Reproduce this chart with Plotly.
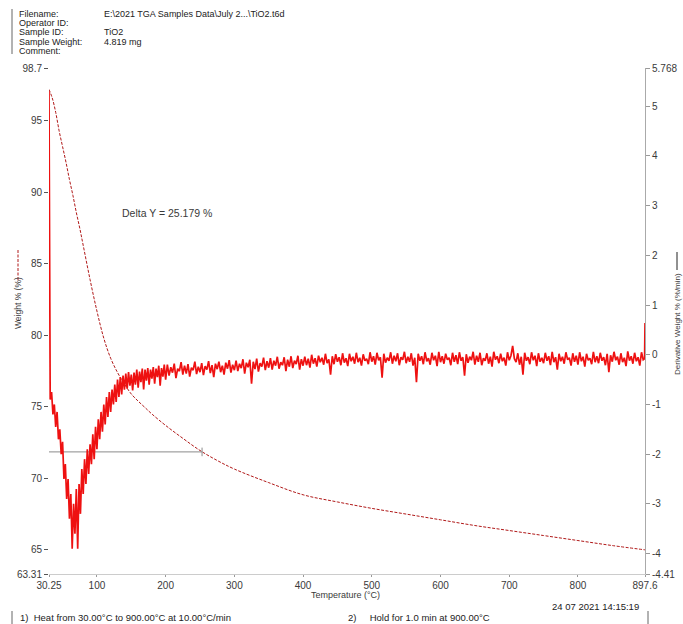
import plotly.graph_objects as go

# ---------------- data ----------------
weight_temp = [30.25, 35, 40, 45, 50, 55, 60, 65, 70, 75, 80, 90, 100, 110, 120, 130, 140, 150,
               160, 170, 180, 200, 225, 250, 275, 300, 350, 400, 450, 500, 550, 600, 650, 700,
               750, 800, 850, 897.6]
weight_pct = [97.2, 96.6, 95.6, 94.3, 93.2, 92.1, 90.9, 89.8, 88.6, 87.5, 86.3, 83.9, 81.7, 79.8,
              78.4, 77.4, 76.6, 75.9, 75.4, 74.95, 74.5, 73.7, 72.8, 71.95, 71.25, 70.65, 69.7,
              68.85, 68.35, 67.9, 67.5, 67.1, 66.7, 66.35, 66.0, 65.65, 65.3, 65.0]

deriv_temp_a = [30.25, 31] + list(range(32, 201, 2))
deriv_vals_a = [5.30, -0.62,
                -0.9, -0.75, -1.2, -1.0, -1.45, -1.15, -1.7, -1.5, -2.0, -1.75,
                -2.5, -2.2, -2.9, -2.5, -3.3, -2.8, -3.9, -3.0, -3.6, -2.7,
                -3.9, -2.6, -3.2, -2.3, -2.8, -2.1, -2.6, -1.9, -2.4, -1.8,
                -2.2, -1.6, -2.1, -1.45, -1.9, -1.3, -1.7, -1.15, -1.55, -1.0,
                -1.4, -0.85, -1.25, -0.75, -1.15, -0.7, -1.0, -0.6, -0.95, -0.5,
                -0.85, -0.45, -0.8, -0.42, -0.7, -0.38, -0.68, -0.35, -0.62, -0.40,
                -0.72, -0.36, -0.6, -0.3, -0.66, -0.34, -0.55, -0.28, -0.7, -0.3,
                -0.52, -0.27, -0.6, -0.3, -0.48, -0.25, -0.58, -0.28, -0.45, -0.22,
                -0.62, -0.27, -0.44, -0.2, -0.5]
# sampled every 2.5 °C from 202.5 to 895, then the final two readings
deriv_temp_b = [202.5 + 2.5 * i for i in range(278)] + [897, 897.6]
deriv_vals_b = [
    -0.20, -0.42, -0.25, -0.36, -0.18, -0.47, -0.28, -0.33, -0.15, -0.40,
    -0.22, -0.38, -0.19, -0.44, -0.26, -0.31, -0.14, -0.39, -0.24, -0.35,
    -0.17, -0.41, -0.23, -0.30, -0.13, -0.37, -0.21, -0.45, -0.18, -0.29,
    -0.14, -0.35, -0.22, -0.40, -0.16, -0.28, -0.11, -0.36, -0.20, -0.31,
    -0.12, -0.33, -0.18, -0.27, -0.09, -0.38, -0.16, -0.25, -0.10, -0.58,
    -0.14, -0.29, -0.08, -0.34, -0.17, -0.24, -0.06, -0.31, -0.13, -0.26,
    -0.07, -0.30, -0.12, -0.22, -0.04, -0.28, -0.15, -0.21, -0.05, -0.33,
    -0.10, -0.24, -0.03, -0.27, -0.12, -0.19, -0.02, -0.30, -0.09, -0.22,
    -0.04, -0.21, -0.08, -0.26, 0.00, -0.18, -0.07, -0.24, -0.02, -0.15,
    -0.06, -0.20, 0.02, -0.17, -0.09, -0.40, -0.03, -0.19, 0.01, -0.14,
    -0.05, -0.21, 0.03, -0.16, -0.07, -0.23, 0.02, -0.13, -0.04, -0.18,
    0.04, -0.15, -0.06, -0.22, 0.01, -0.12, -0.08, -0.19, 0.05, -0.14,
    -0.03, -0.20, 0.04, -0.11, -0.05, -0.46, 0.02, -0.16, -0.06, -0.12,
    0.05, -0.18, -0.02, -0.13, 0.03, -0.21, -0.05, -0.10, 0.06, -0.17,
    -0.04, -0.14, 0.03, -0.22, -0.06, -0.55, 0.02, -0.12, -0.03, -0.19,
    0.05, -0.13, -0.07, -0.20, 0.04, -0.11, -0.02, -0.23, 0.06, -0.15,
    -0.03, -0.18, 0.02, -0.10, -0.06, -0.21, 0.04, -0.14, -0.01, -0.19,
    0.05, -0.12, -0.05, -0.42, 0.01, -0.16, -0.04, -0.11, 0.06, -0.20,
    -0.02, -0.14, 0.04, -0.21, -0.07, -0.12, 0.03, -0.18, -0.04, -0.24,
    0.06, -0.10, -0.03, -0.17, 0.02, -0.13, -0.06, -0.22, 0.05, -0.11,
    -0.02, 0.18, -0.08, -0.15, 0.03, -0.20, -0.04, -0.40, 0.04, -0.12,
    -0.05, -0.19, 0.05, -0.11, -0.02, -0.23, 0.03, -0.14, -0.06, -0.17,
    0.04, -0.12, -0.03, -0.21, 0.06, -0.15, -0.05, -0.30, 0.02, -0.13,
    -0.04, -0.18, 0.05, -0.10, -0.06, -0.22, 0.03, -0.14, -0.02, -0.20,
    0.05, -0.13, -0.04, -0.24, 0.02, -0.11, -0.07, -0.19, 0.06, -0.15,
    -0.03, -0.17, 0.04, -0.12, -0.05, -0.21, 0.02, -0.35, -0.01, -0.14,
    0.06, -0.11, -0.04, -0.20, 0.03, -0.15, -0.06, -0.23, 0.07, -0.12,
    -0.03, -0.18, 0.04, -0.13, -0.05, -0.22, 0.05, -0.10,
    -0.08, 0.64]
deriv_temp = deriv_temp_a + deriv_temp_b
deriv_vals = deriv_vals_a + deriv_vals_b

x_ticks = [30.25, 100, 200, 300, 400, 500, 600, 700, 800, 897.6]
x_labels = ["30.25", "100", "200", "300", "400", "500", "600", "700", "800", "897.6"]
y1_ticks = [63.31, 65, 70, 75, 80, 85, 90, 95, 98.7]
y1_labels = ["63.31", "65", "70", "75", "80", "85", "90", "95", "98.7"]
y2_ticks = [-4.41, -4, -3, -2, -1, 0, 1, 2, 3, 4, 5, 5.768]
y2_labels = ["-4.41", "-4", "-3", "-2", "-1", "0", "1", "2", "3", "4", "5", "5.768"]

delta_start_x = 30.25
delta_end_x = 253
delta_level = 71.85

header_labels = ["Filename:", "Operator ID:", "Sample ID:", "Sample Weight:", "Comment:"]
header_values = ["E:\\2021 TGA Samples Data\\July 2...\\TiO2.t6d", "", "TiO2", "4.819 mg", ""]

FONT = "Liberation Sans, Arial, sans-serif"
TXT = "#3a3a3a"

fig = go.Figure()
fig.add_trace(go.Scatter(x=deriv_temp, y=deriv_vals, yaxis="y2", mode="lines",
                         line=dict(color="#ee1111", width=1.7), showlegend=False,
                         hoverinfo="skip"))
fig.add_trace(go.Scatter(x=weight_temp, y=weight_pct, mode="lines", line_shape="spline",
                         line=dict(color="#b01818", width=1, dash="3px,1.5px"), showlegend=False,
                         hoverinfo="skip"))
# delta Y marker line
fig.add_trace(go.Scatter(x=[delta_start_x, delta_end_x], y=[delta_level, delta_level], mode="lines",
                         line=dict(color="#8a8a8a", width=1), showlegend=False, hoverinfo="skip"))
fig.add_trace(go.Scatter(x=[delta_end_x, delta_end_x], y=[delta_level - 0.3, delta_level + 0.3], mode="lines",
                         line=dict(color="#8a8a8a", width=1), showlegend=False, hoverinfo="skip"))

fig.update_layout(
    width=683, height=624,
    margin=dict(l=49, r=38, t=68, b=50),
    paper_bgcolor="white", plot_bgcolor="white",
    font=dict(family=FONT, size=10, color=TXT),
    xaxis=dict(range=[30.25, 897.6], tickvals=x_ticks, ticktext=x_labels, showgrid=False,
               zeroline=False, showline=True, linecolor="#cccccc", ticks="outside",
               ticklen=2, tickcolor="#999999", tickfont=dict(size=10, color=TXT),
               automargin=False),
    yaxis=dict(range=[63.31, 98.7], tickvals=y1_ticks, ticktext=y1_labels, showgrid=False,
               zeroline=False, showline=False, ticks="outside", ticklen=4,
               tickcolor="#555555", tickfont=dict(size=10, color=TXT), automargin=False),
    yaxis2=dict(range=[-4.41, 5.768], tickvals=y2_ticks, ticktext=y2_labels, overlaying="y",
                side="right", showgrid=False, zeroline=False, showline=True,
                linecolor="#aaaaaa", ticks="outside", ticklen=4, tickcolor="#999999",
                tickfont=dict(size=10, color=TXT), automargin=False),
)

# convert pixel coords to paper coords
PL, PR, PT, PB = 49, 683 - 38, 68, 624 - 50
def px(xp):
    return (xp - PL) / (PR - PL)
def py(yp):
    return (PB - yp) / (PB - PT)

ann = []
for i, (lab, val) in enumerate(zip(header_labels, header_values)):
    yy = 14.0 + i * 9.2
    ann.append(dict(x=px(17), y=py(yy), text=lab, xref="paper", yref="paper", showarrow=False,
                    xanchor="left", yanchor="middle", font=dict(size=9, color="#222")))
    if val:
        ann.append(dict(x=px(102), y=py(yy), text=val, xref="paper", yref="paper", showarrow=False,
                        xanchor="left", yanchor="middle", font=dict(size=9, color="#222")))

ann += [
    dict(x=px(345), y=py(595), xref="paper", yref="paper", text="Temperature (°C)", showarrow=False,
         xanchor="center", yanchor="middle", font=dict(size=9, color=TXT)),
    dict(x=px(18), y=py(303), xref="paper", yref="paper", text="Weight % (%)", showarrow=False,
         textangle=-90, xanchor="center", yanchor="middle", font=dict(size=8.5, color=TXT)),
    dict(x=px(677), y=py(324), xref="paper", yref="paper", text="Derivative Weight % (%/min)",
         showarrow=False, textangle=-90, xanchor="center", yanchor="middle",
         font=dict(size=8, color=TXT)),
    dict(x=px(120), y=py(213), xref="paper", yref="paper", text="Delta Y = 25.179 %",
         showarrow=False, xanchor="left", yanchor="middle", font=dict(size=10.5, color=TXT)),
    dict(x=px(641), y=py(606), xref="paper", yref="paper", text="24 07 2021 14:15:19",
         showarrow=False, xanchor="right", yanchor="middle", font=dict(size=9.5, color="#222")),
    dict(x=px(18), y=py(617), xref="paper", yref="paper",
         text="1)  Heat from 30.00°C to 900.00°C at 10.00°C/min", showarrow=False,
         xanchor="left", yanchor="middle", font=dict(size=9.5, color="#222")),
    dict(x=px(346), y=py(617), xref="paper", yref="paper",
         text="2)     Hold for 1.0 min at 900.00°C", showarrow=False,
         xanchor="left", yanchor="middle", font=dict(size=9.5, color="#222")),
]
fig.update_layout(annotations=ann)

shapes = [
    # header box left border
    dict(type="line", xref="paper", yref="paper", x0=px(12), x1=px(12), y0=py(9), y1=py(54),
         line=dict(color="#666", width=1)),
    # bottom method box borders
    dict(type="line", xref="paper", yref="paper", x0=px(12), x1=px(12), y0=py(611), y1=py(624),
         line=dict(color="#666", width=1)),
    dict(type="line", xref="paper", yref="paper", x0=px(648), x1=px(648), y0=py(611), y1=py(624),
         line=dict(color="#666", width=1)),
    # legend symbol next to left axis title (dashed)
    dict(type="line", xref="paper", yref="paper", x0=px(18), x1=px(18), y0=py(250), y1=py(280),
         line=dict(color="#b01818", width=1, dash="3px,1.5px")),
    # legend symbol next to right axis title (solid)
    dict(type="line", xref="paper", yref="paper", x0=px(677), x1=px(677), y0=py(252), y1=py(270),
         line=dict(color="#222", width=1)),
]
fig.update_layout(shapes=shapes)

fig.write_html("out.html", config={"displayModeBar": False},
               post_script="document.body.style.margin='0';document.body.style.overflow='hidden';")
